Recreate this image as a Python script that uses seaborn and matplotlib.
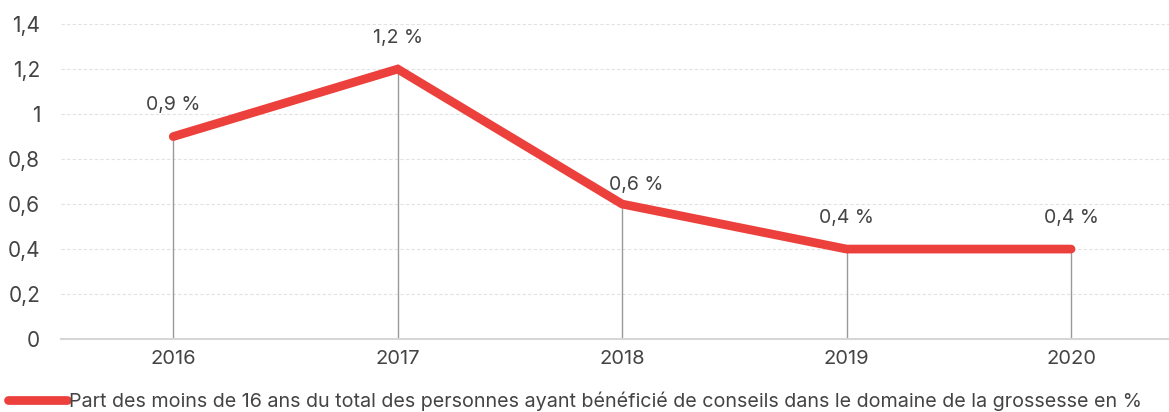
import matplotlib
matplotlib.use("Agg")
import matplotlib.pyplot as plt
import pandas as pd
import seaborn as sns

years = ["2016", "2017", "2018", "2019", "2020"]
values = [0.9, 1.2, 0.6, 0.4, 0.4]
value_labels = ["0,9 %", "1,2 %", "0,6 %", "0,4 %", "0,4 %"]
y_ticks = [0, 0.2, 0.4, 0.6, 0.8, 1.0, 1.2, 1.4]
y_tick_labels = ["0", "0,2", "0,4", "0,6", "0,8", "1", "1,2", "1,4"]
series_name = "Part des moins de 16 ans du total des personnes ayant bénéficié de conseils dans le domaine de la grossesse en %"

RED = "#EC403D"
TEXT = "#444444"

sns.set_theme(style="white")
plt.rcParams["font.family"] = ["Inter", "DejaVu Sans"]

df = pd.DataFrame({"year": years, "value": values})

fig = plt.figure(figsize=(11.69, 4.12), dpi=100)
ax = fig.add_axes([0.0522, 0.177, 0.960, 0.7646])

ax.vlines(range(len(years)), 0, df["value"], color="#9a9a9a", linewidth=1, zorder=1)
sns.lineplot(data=df, x="year", y="value", color=RED, linewidth=6.3,
             solid_capstyle="round", solid_joinstyle="miter",
             label=series_name, ax=ax, zorder=3)

# the 2018 label sits a bit lower and to the right, clear of the line
for i, (v, lab) in enumerate(zip(values, value_labels)):
    offset = (10, 14) if years[i] == "2018" else (0, 22.5)
    ax.annotate(lab, (i, v), xytext=offset, textcoords="offset points",
                ha="center", va="center", fontsize=14, color=TEXT)

ax.set_xlim(-0.5, len(years) - 0.5)
ax.set_ylim(0, 1.4)
ax.set_yticks(y_ticks)
ax.set_yticklabels(y_tick_labels)
ax.grid(axis="y", linestyle=(0, (3, 2)), color="#e2e2e2", linewidth=0.8)
ax.set_axisbelow(True)
for side in ["top", "right", "left"]:
    ax.spines[side].set_visible(False)
ax.spines["bottom"].set_color("#d6d6d6")
ax.spines["bottom"].set_linewidth(1.5)
ax.tick_params(axis="both", length=0, colors=TEXT)
ax.tick_params(axis="x", pad=8, labelsize=14.5)
ax.tick_params(axis="y", pad=15, labelsize=15)
ax.set_xlabel("")
ax.set_ylabel("")

leg = ax.legend(loc="lower left", bbox_to_anchor=(0.006, 0.0), bbox_transform=fig.transFigure,
                frameon=False, fontsize=14.2, handlelength=3.0, handletextpad=0.1,
                borderaxespad=0.0, borderpad=0.05)
for t in leg.get_texts():
    t.set_color(TEXT)

fig.savefig("out.png", dpi=100)
